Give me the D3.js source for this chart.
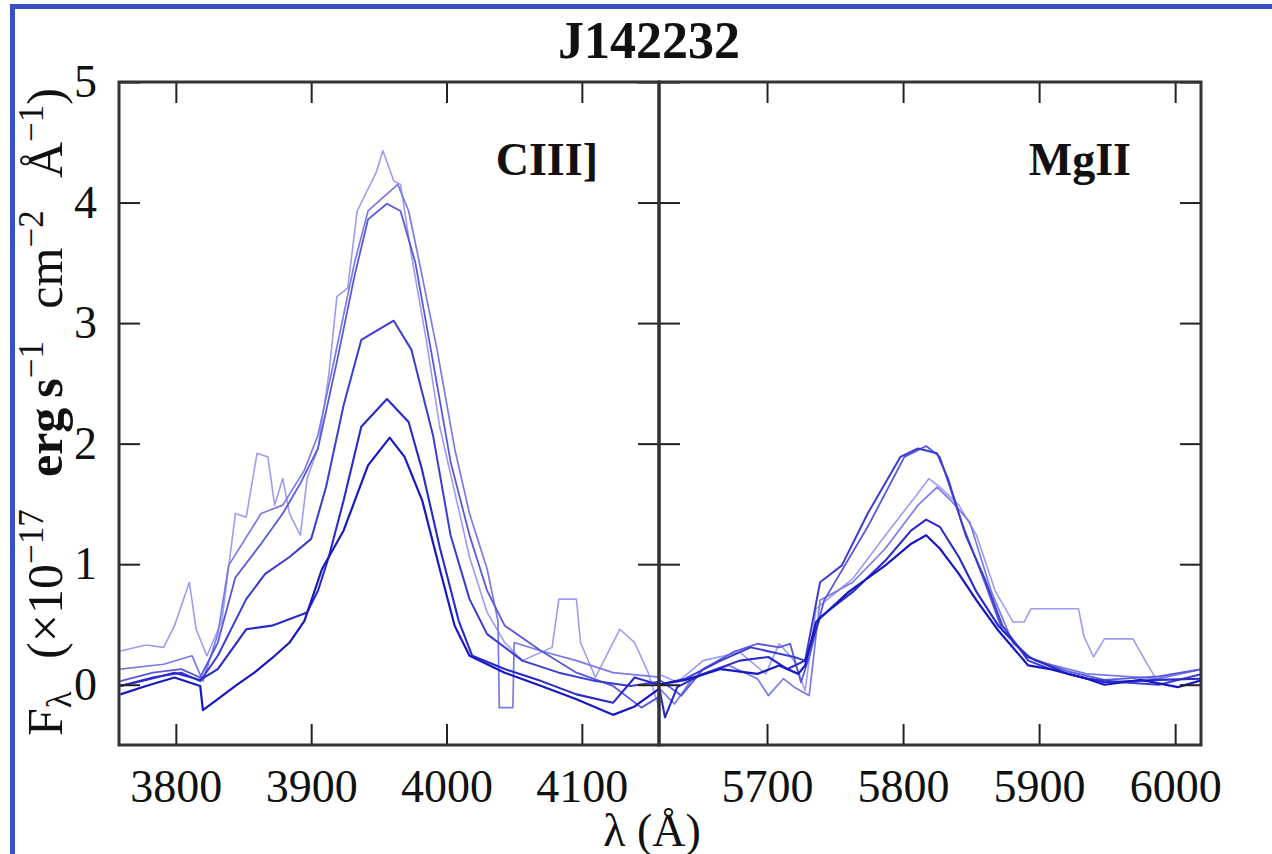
<!DOCTYPE html>
<meta charset="utf-8">
<head>
  <title>J142232</title>
</head>
<style>
  body { margin: 0; background: #fff; }
  svg { font-family: "Liberation Serif", "DejaVu Serif", serif; }
  .axis path { display: none; }
  .axis line { stroke: #222; stroke-width: 2px; }
  .axis text { font-size: 46px; fill: #111; font-family: "Liberation Serif", serif; }
  .frame { fill: none; stroke: #333; stroke-width: 3px; }
  .spec { fill: none; stroke-linejoin: round; }
</style>
<body>
<script src="https://d3js.org/d3.v7.min.js"></script>
<script>
// ---- data: [wavelength (A), flux] ----
// CIII] panel, darkest -> lightest
var ciii1 = [[3759,-0.08],[3778,-0.01],[3799,0.06],[3818,-0.01],[3820,-0.21],[3831,-0.12],[3844,-0.01],[3858,0.10],[3871,0.22],[3884,0.35],[3895,0.53],[3908,0.96],[3924,1.28],[3942,1.82],[3958,2.05],[3969,1.89],[3982,1.53],[3995,0.96],[4006,0.49],[4017,0.24],[4043,0.10],[4070,-0.01],[4096,-0.12],[4123,-0.25],[4139,-0.18],[4160,-0.01]];
var ciii2 = [[3759,-0.01],[3778,0.04],[3799,0.10],[3818,0.04],[3831,0.13],[3852,0.46],[3871,0.49],[3897,0.60],[3905,0.78],[3913,1.06],[3924,1.53],[3937,2.14],[3956,2.37],[3972,2.18],[3982,1.78],[3995,1.14],[4009,0.53],[4019,0.24],[4043,0.13],[4070,0.03],[4096,-0.08],[4123,-0.15],[4139,0.06],[4160,-0.01]];
var ciii3 = [[3759,-0.01],[3783,0.06],[3804,0.10],[3818,0.03],[3831,0.24],[3852,0.71],[3866,0.92],[3884,1.06],[3900,1.21],[3911,1.64],[3924,2.32],[3937,2.86],[3961,3.02],[3974,2.78],[3990,2.07],[4003,1.24],[4017,0.71],[4030,0.42],[4056,0.20],[4083,0.10],[4110,0.03],[4136,-0.01],[4160,0.03]];
var ciii4 = [[3759,0.03],[3783,0.10],[3804,0.13],[3818,0.06],[3831,0.35],[3844,0.89],[3863,1.17],[3879,1.42],[3892,1.67],[3905,1.96],[3919,2.68],[3932,3.39],[3942,3.86],[3956,3.99],[3966,3.93],[3977,3.50],[3990,2.68],[4003,1.85],[4017,1.24],[4030,0.78],[4043,0.49],[4070,0.28],[4096,0.10],[4123,-0.01],[4144,-0.19],[4160,-0.08]];
var ciii5 = [[3759,0.13],[3791,0.17],[3812,0.24],[3820,0.03],[3831,0.42],[3839,0.99],[3863,1.42],[3879,1.49],[3895,1.78],[3905,2.07],[3916,2.64],[3932,3.50],[3942,3.93],[3953,4.04],[3964,4.15],[3972,3.93],[3980,3.50],[3993,2.78],[4006,1.96],[4017,1.42],[4030,0.96],[4038,0.53],[4039,-0.19],[4049,-0.19],[4050,0.35],[4070,0.28],[4096,0.20],[4123,0.10],[4160,0.06]];
var ciii6 = [[3759,0.28],[3778,0.33],[3791,0.31],[3799,0.49],[3810,0.85],[3815,0.46],[3823,0.24],[3834,0.53],[3844,1.42],[3852,1.39],[3860,1.92],[3868,1.89],[3873,1.49],[3879,1.71],[3884,1.42],[3892,1.24],[3897,1.71],[3905,1.96],[3913,2.57],[3919,3.22],[3927,3.29],[3934,3.93],[3948,4.25],[3953,4.43],[3961,4.18],[3966,4.15],[3974,3.57],[3985,2.86],[3995,2.14],[4006,1.60],[4017,1.06],[4030,0.60],[4043,0.35],[4056,0.20],[4078,0.31],[4083,0.71],[4096,0.71],[4099,0.35],[4110,0.06],[4128,0.46],[4139,0.35],[4149,0.10],[4160,-0.30]];

// MgII panel, darkest -> lightest
var mgii1 = [[5620,0.00],[5640,0.04],[5666,0.13],[5693,0.09],[5709,0.16],[5723,0.09],[5728,0.16],[5736,0.52],[5760,0.77],[5787,0.99],[5806,1.17],[5817,1.24],[5827,1.13],[5841,0.92],[5854,0.70],[5870,0.45],[5892,0.16],[5908,0.13],[5935,0.05],[5948,0.00],[5975,0.04],[6002,-0.02],[6020,0.04]];
var mgii2 = [[5620,0.02],[5625,-0.27],[5634,-0.02],[5653,0.09],[5680,0.20],[5701,0.23],[5715,0.13],[5728,0.20],[5739,0.56],[5763,0.77],[5787,1.03],[5806,1.28],[5817,1.37],[5827,1.31],[5841,1.06],[5854,0.77],[5870,0.49],[5892,0.23],[5921,0.09],[5948,0.02],[5988,0.04],[6020,0.05]];
var mgii3 = [[5620,0.00],[5640,0.05],[5666,0.20],[5688,0.31],[5704,0.27],[5720,0.23],[5728,0.20],[5739,0.85],[5755,0.99],[5774,1.42],[5798,1.89],[5811,1.96],[5825,1.92],[5833,1.71],[5846,1.24],[5860,0.88],[5873,0.49],[5892,0.20],[5908,0.13],[5935,0.05],[5961,0.02],[5988,0.00],[6020,0.09]];
var mgii4 = [[5620,0.05],[5637,-0.09],[5653,0.13],[5675,0.27],[5693,0.34],[5709,0.31],[5717,0.34],[5725,0.02],[5731,0.23],[5742,0.70],[5774,1.31],[5801,1.89],[5817,1.98],[5827,1.89],[5843,1.35],[5860,0.85],[5873,0.45],[5892,0.23],[5921,0.11],[5948,0.04],[5988,0.07],[6020,0.13]];
var mgii5 = [[5620,-0.02],[5632,-0.16],[5645,0.05],[5672,0.16],[5693,0.05],[5701,-0.09],[5712,0.05],[5720,-0.02],[5731,-0.09],[5739,0.70],[5763,0.85],[5787,1.13],[5811,1.49],[5825,1.64],[5835,1.53],[5849,1.35],[5865,0.77],[5881,0.34],[5897,0.20],[5935,0.09],[5988,0.05],[6020,0.13]];
var mgii6 = [[5620,0.09],[5634,0.02],[5653,0.20],[5680,0.27],[5699,0.09],[5709,0.34],[5720,0.20],[5728,-0.05],[5736,0.63],[5763,0.88],[5787,1.24],[5809,1.56],[5819,1.71],[5827,1.64],[5841,1.49],[5854,1.24],[5868,0.77],[5881,0.52],[5889,0.52],[5894,0.63],[5929,0.63],[5933,0.40],[5940,0.23],[5948,0.38],[5969,0.38],[5980,0.16],[5986,0.05],[6002,0.09],[6020,0.13]];

var ciiiTicks = [3800, 3900, 4000, 4100];
var mgiiTicks = [5700, 5800, 5900, 6000];
var fluxTicks = [0, 1, 2, 3, 4, 5];
var shades = ["#1818c0", "#2a2acb", "#3c3cd3", "#5858dc", "#7a7ae8", "#9c9cf3"];
var widths = [2.2, 2.1, 2.0, 1.8, 1.7, 1.6];

// ---- layout ----
var W = 1272, H = 854;
var plotTop = 82, plotBottom = 745;

var svg = d3.select("body").append("svg")
    .attr("width", W)
    .attr("height", H);

svg.append("rect").attr("width", W).attr("height", H).attr("fill", "#fff");

// slide border
svg.append("line").attr("x1", 12.5).attr("x2", 12.5).attr("y1", 4).attr("y2", H)
    .attr("stroke", "#3b4fc4").attr("stroke-width", 5);
svg.append("line").attr("x1", 10).attr("x2", W).attr("y1", 6.5).attr("y2", 6.5)
    .attr("stroke", "#3b4fc4").attr("stroke-width", 5);

var y = d3.scaleLinear().domain([-0.5, 5]).range([plotBottom, plotTop]);
var fmt = d3.format("d");

var panels = [
  { x0: 119, x1: 659, domain: [3758, 4157], ticks: ciiiTicks, series: [ciii6, ciii5, ciii4, ciii3, ciii2, ciii1], label: "CIII]", labelX: 598, leftLabels: true },
  { x0: 659, x1: 1201, domain: [5620.6, 6019], ticks: mgiiTicks, series: [mgii6, mgii5, mgii4, mgii3, mgii2, mgii1], label: "MgII", labelX: 1131, leftLabels: false }
];

panels.forEach(function(p, i) {
  var x = d3.scaleLinear().domain(p.domain).range([p.x0, p.x1]);
  var g = svg.append("g");

  g.append("clipPath").attr("id", "clip" + i)
    .append("rect").attr("x", p.x0).attr("y", plotTop)
    .attr("width", p.x1 - p.x0).attr("height", plotBottom - plotTop);

  var line = d3.line()
      .x(function(d) { return x(d[0]); })
      .y(function(d) { return y(d[1]); });

  // lightest first so the dark ones sit on top
  g.append("g").attr("clip-path", "url(#clip" + i + ")")
    .selectAll("path")
    .data(p.series)
    .enter().append("path")
      .attr("class", "spec")
      .attr("d", line)
      .attr("stroke", function(d, k) { return shades[5 - k]; })
      .attr("stroke-width", function(d, k) { return widths[5 - k]; });

  // bottom axis with labels
  g.append("g").attr("class", "axis")
    .attr("transform", "translate(0," + plotBottom + ")")
    .call(d3.axisBottom(x).tickValues(p.ticks).tickSize(-21).tickPadding(24).tickFormat(fmt))
    .selectAll("text").attr("dy", "0.71em");

  // top axis
  g.append("g").attr("class", "axis")
    .attr("transform", "translate(0," + plotTop + ")")
    .call(d3.axisTop(x).tickValues(p.ticks).tickSize(-21).tickFormat(""));

  // left axis
  var left = d3.axisLeft(y).tickValues(fluxTicks).tickSize(-21).tickPadding(22).tickFormat(fmt);
  if (!p.leftLabels) left.tickFormat("");
  g.append("g").attr("class", "axis")
    .attr("transform", "translate(" + p.x0 + ",0)")
    .call(left);

  // right axis
  g.append("g").attr("class", "axis")
    .attr("transform", "translate(" + p.x1 + ",0)")
    .call(d3.axisRight(y).tickValues(fluxTicks).tickSize(-21).tickFormat(""));

  g.append("rect").attr("class", "frame")
    .attr("x", p.x0).attr("y", plotTop)
    .attr("width", p.x1 - p.x0).attr("height", plotBottom - plotTop);

  g.append("text")
    .attr("x", p.labelX).attr("y", 175)
    .attr("text-anchor", "end")
    .style("font-size", "46px")
    .style("font-weight", "bold")
    .style("fill", "#111")
    .text(p.label);
});

// title
svg.append("text")
    .attr("x", 649).attr("y", 58)
    .attr("text-anchor", "middle")
    .style("font-size", "52px")
    .style("font-weight", "bold")
    .style("fill", "#111")
    .text("J142232");

// x label (cut by the bottom edge, as in the original slide)
svg.append("text")
    .attr("x", 652).attr("y", 846)
    .attr("text-anchor", "middle")
    .style("font-size", "46px")
    .style("fill", "#111")
    .text("λ (Å)");

// y label
var ylab = svg.append("text")
    .attr("transform", "translate(62,412) rotate(-90)")
    .attr("text-anchor", "middle")
    .style("font-size", "50px")
    .style("fill", "#111");

var parts = [
  ["F", 0, null],
  ["λ", 9, "sub"],
  [" (×10", -9, null],
  ["−17", -19, "sup"],
  [" erg\u2009s", 19, "bold"],
  ["−1", -19, "sup"],
  [" cm", 19, null],
  ["−2", -19, "sup"],
  [" Å", 19, null],
  ["−1", -19, "sup"],
  [")", 19, null]
];
parts.forEach(function(pt) {
  var t = ylab.append("tspan").attr("dy", pt[1]).text(pt[0]);
  if (pt[2] === "sup" || pt[2] === "sub") t.style("font-size", "35px");
  if (pt[2] === "bold") t.style("font-weight", "bold");
});
var len = ylab.node().getComputedTextLength();
var extra = Math.max(0, (648 - len) / 4);
ylab.style("word-spacing", extra + "px");
</script>
</body>
